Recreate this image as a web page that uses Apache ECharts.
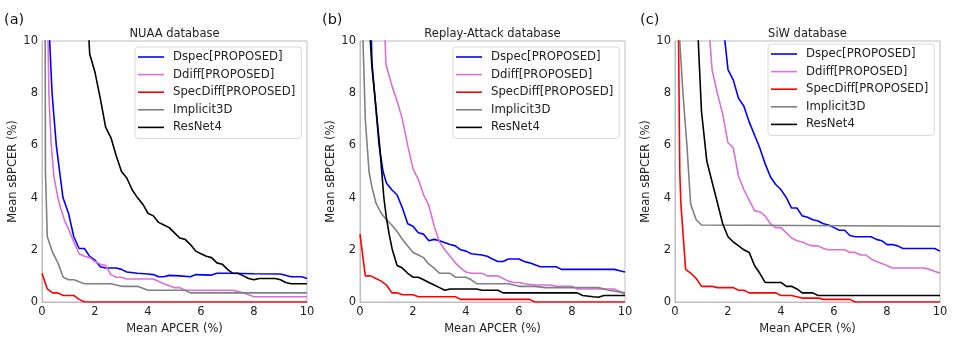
<!DOCTYPE html>
<html>
<head>
<meta charset="utf-8">
<script src="https://cdn.jsdelivr.net/npm/echarts@6/dist/echarts.min.js"></script>
<style>
    html, body { margin: 0; padding: 0; background: #fff; }
    #chart { width: 954px; height: 340px; }
</style>
</head>
<body>
<div id="chart"></div>
<script>
// 曲线名称与颜色
var seriesNames = ["Dspec[PROPOSED]", "Ddiff[PROPOSED]", "SpecDiff[PROPOSED]", "Implicit3D", "ResNet4"];
var seriesColors = ["#0000ff", "#da70d6", "#ff0000", "#808080", "#000000"];
var panelTitles = ["NUAA database", "Replay-Attack database", "SiW database"];
var panelLabels = ["(a)", "(b)", "(c)"];
var xTicks = [0, 2, 4, 6, 8, 10];
var yTicks = [0, 2, 4, 6, 8, 10];

// (a) NUAA
var nuaaDspec = [[0.28,10.5],[0.29,10],[0.38,8],[0.54,6],[0.64,5.2],[0.79,4.0],[1.0,3.4],[1.2,2.5],[1.4,2.05],[1.6,2.05],[1.8,1.75],[2.0,1.6],[2.2,1.35],[2.4,1.3],[2.8,1.3],[3.0,1.25],[3.2,1.15],[3.6,1.1],[4.0,1.07],[4.2,1.05],[4.4,0.97],[4.6,0.97],[4.8,1.02],[5.2,1.0],[5.6,0.97],[5.8,1.05],[6.4,1.03],[6.6,1.1],[7.0,1.1],[8.0,1.08],[9.0,1.07],[9.4,0.97],[9.8,0.97],[10,0.9]];
var nuaaDdiff = [[0.22,10.5],[0.26,8],[0.3,7],[0.35,6],[0.45,4.8],[0.6,4.0],[0.7,3.6],[0.86,3.1],[1.0,2.8],[1.2,2.3],[1.4,1.85],[1.6,1.75],[1.8,1.7],[2.0,1.55],[2.2,1.45],[2.4,1.4],[2.6,1.05],[2.8,0.95],[3.0,0.95],[3.2,0.88],[4.2,0.88],[4.6,0.7],[5.0,0.55],[5.2,0.55],[5.4,0.45],[7.2,0.45],[7.6,0.35],[8.0,0.2],[10,0.2]];
var nuaaSpecDiff = [[0,1.1],[0.1,0.8],[0.2,0.5],[0.4,0.35],[0.6,0.35],[0.8,0.25],[1.2,0.25],[1.4,0.1],[1.6,0],[10,0]];
var nuaaImplicit = [[0.12,10.5],[0.13,5],[0.2,2.5],[0.4,1.9],[0.6,1.5],[0.8,0.95],[1.0,0.85],[1.2,0.85],[1.6,0.7],[2.6,0.7],[3.0,0.6],[3.6,0.6],[4.0,0.45],[5.4,0.45],[5.6,0.35],[10,0.35]];
var nuaaResNet = [[1.75,10.5],[1.8,9.5],[2.0,8.8],[2.2,7.8],[2.4,6.7],[2.6,6.3],[2.8,5.6],[3.0,5.0],[3.2,4.75],[3.4,4.3],[3.6,4.0],[3.8,3.75],[4.0,3.4],[4.2,3.3],[4.4,3.05],[4.6,2.95],[4.8,2.85],[5.0,2.65],[5.2,2.45],[5.4,2.4],[5.6,2.2],[5.8,1.95],[6.0,1.85],[6.2,1.75],[6.4,1.7],[6.6,1.5],[6.8,1.45],[7.0,1.25],[7.2,1.1],[7.4,1.1],[7.6,1.0],[7.8,0.9],[8.0,0.85],[8.2,0.9],[8.8,0.9],[9.0,0.85],[9.2,0.75],[9.4,0.7],[10,0.7]];

// (b) Replay-Attack
var replayDspec = [[0.42,10.5],[0.45,9.2],[0.55,8],[0.72,6],[0.87,5],[1.0,4.55],[1.2,4.3],[1.4,4.1],[1.6,3.6],[1.8,3.0],[2.0,2.9],[2.2,2.65],[2.4,2.6],[2.6,2.35],[2.8,2.4],[3.0,2.35],[3.4,2.2],[3.6,2.15],[3.8,2.0],[4.0,1.95],[4.2,1.85],[4.6,1.8],[4.8,1.75],[5.0,1.65],[5.2,1.55],[5.4,1.55],[5.6,1.65],[6.0,1.65],[6.2,1.55],[6.4,1.5],[6.8,1.35],[7.4,1.35],[7.6,1.25],[9.6,1.25],[9.8,1.2],[10,1.15]];
var replayDdiff = [[0.93,10.5],[0.98,9.1],[1.2,8.3],[1.4,7.7],[1.6,7.0],[1.8,6.0],[2.0,5.1],[2.2,4.7],[2.4,4.1],[2.6,3.7],[2.8,2.9],[3.0,2.3],[3.2,2.0],[3.4,1.75],[3.6,1.5],[3.8,1.3],[4.0,1.15],[4.2,1.1],[4.6,1.1],[4.8,1.0],[5.2,1.0],[5.4,0.9],[5.6,0.8],[5.8,0.75],[6.0,0.75],[6.2,0.7],[6.6,0.65],[7.2,0.65],[7.4,0.6],[8.0,0.6],[8.2,0.5],[9.6,0.5],[10,0.3]];
var replaySpecDiff = [[0,2.6],[0.2,1.0],[0.4,1.0],[0.6,0.9],[0.8,0.8],[1.0,0.65],[1.2,0.35],[1.4,0.35],[1.6,0.28],[2.0,0.28],[2.2,0.2],[3.6,0.2],[3.8,0.1],[6.4,0.1],[6.6,0],[10,0]];
var replayImplicit = [[0.1,10.5],[0.2,7.0],[0.34,5.0],[0.45,4.4],[0.6,3.8],[0.8,3.4],[1.0,3.15],[1.2,2.95],[1.4,2.7],[1.6,2.4],[1.8,2.15],[2.0,1.9],[2.2,1.8],[2.4,1.7],[2.6,1.45],[2.8,1.3],[3.0,1.1],[3.4,1.1],[3.6,0.95],[4.0,0.95],[4.2,0.85],[4.4,0.7],[5.6,0.7],[5.8,0.65],[6.0,0.6],[6.6,0.6],[7.0,0.55],[9.0,0.55],[9.4,0.45],[10,0.35]];
var replayResNet = [[0.36,10.5],[0.45,9],[0.55,8],[0.74,6],[0.9,4],[1.0,3.2],[1.1,2.6],[1.22,2.0],[1.4,1.4],[1.6,1.3],[1.8,1.1],[2.0,0.95],[2.2,0.95],[2.4,0.85],[2.6,0.75],[2.8,0.65],[3.0,0.55],[3.2,0.45],[3.4,0.5],[4.4,0.5],[4.6,0.45],[5.2,0.45],[5.4,0.35],[8.2,0.35],[8.4,0.25],[8.8,0.2],[9.0,0.18],[9.2,0.25],[10,0.25]];

// (c) SiW
var siwDspec = [[1.83,10.5],[2.0,8.9],[2.2,8.5],[2.4,7.8],[2.6,7.5],[2.8,6.9],[3.0,6.4],[3.2,5.9],[3.4,5.3],[3.6,4.8],[3.8,4.5],[4.0,4.3],[4.2,4.0],[4.4,3.6],[4.6,3.6],[4.8,3.3],[5.0,3.25],[5.2,3.15],[5.4,3.1],[5.6,3.0],[5.8,2.95],[6.0,2.85],[6.2,2.75],[6.4,2.75],[6.6,2.55],[6.8,2.5],[7.4,2.5],[7.6,2.4],[7.8,2.35],[8.0,2.2],[8.2,2.2],[8.4,2.15],[8.6,2.05],[9.8,2.05],[10,1.95]];
var siwDdiff = [[1.28,10.5],[1.4,8.9],[1.6,8.0],[1.8,7.2],[2.0,6.1],[2.2,5.9],[2.4,4.8],[2.6,4.3],[2.8,3.9],[3.0,3.5],[3.2,3.45],[3.4,3.3],[3.6,3.0],[3.8,2.85],[4.0,2.85],[4.2,2.65],[4.4,2.45],[4.6,2.35],[4.8,2.3],[5.0,2.2],[5.2,2.15],[5.4,2.15],[5.6,2.05],[5.8,2.0],[6.4,2.0],[6.6,1.9],[6.8,1.9],[7.0,1.8],[7.2,1.8],[7.4,1.65],[7.6,1.55],[8.0,1.4],[8.2,1.3],[9.4,1.3],[9.6,1.25],[10,1.1]];
var siwSpecDiff = [[0.13,10.5],[0.18,5],[0.22,3.8],[0.4,1.25],[0.6,1.1],[0.8,0.9],[1.0,0.6],[1.4,0.6],[1.6,0.55],[2.2,0.55],[2.4,0.45],[2.6,0.45],[2.8,0.35],[3.8,0.35],[4.0,0.25],[4.4,0.25],[4.6,0.2],[4.8,0.15],[5.4,0.15],[5.6,0.1],[6.6,0.1],[6.8,0],[10,0]];
var siwImplicit = [[0.15,10.5],[0.3,8],[0.45,6],[0.59,3.75],[0.8,3.15],[1.0,2.95],[10,2.9]];
var siwResNet = [[0.86,10.5],[0.9,9.5],[1.0,7.3],[1.2,5.4],[1.4,4.6],[1.6,3.8],[1.8,3.0],[2.0,2.5],[2.2,2.3],[2.4,2.15],[2.6,2.0],[2.8,1.9],[3.0,1.4],[3.2,1.1],[3.4,0.75],[4.0,0.75],[4.2,0.6],[4.4,0.6],[4.6,0.5],[4.8,0.35],[5.2,0.35],[5.4,0.25],[10,0.25]];

var panelData = [
    [nuaaDspec, nuaaDdiff, nuaaSpecDiff, nuaaImplicit, nuaaResNet],
    [replayDspec, replayDdiff, replaySpecDiff, replayImplicit, replayResNet],
    [siwDspec, siwDdiff, siwSpecDiff, siwImplicit, siwResNet]
];

var FONT = "DejaVu Sans";
var gridLefts = [42, 360, 675];
var panelLeftEdges = [0, 318, 636];
var GRID_TOP = 41, GRID_W = 265, GRID_H = 261;

var grids = [], xAxes = [], yAxes = [], series = [], legends = [], graphics = [];

gridLefts.forEach(function(left, p) {
    grids.push({
        left: left, top: GRID_TOP, width: GRID_W, height: GRID_H,
        show: true, borderColor: "#bdbdbd", borderWidth: 1, backgroundColor: "transparent"
    });
    xAxes.push({
        type: "value", gridIndex: p, min: xTicks[0], max: xTicks[xTicks.length - 1], interval: 2,
        name: "Mean APCER (%)", nameLocation: "middle", nameGap: 14,
        nameTextStyle: { fontFamily: FONT, fontSize: 11.5, color: "#222" },
        axisLine: { lineStyle: { color: "#bdbdbd", width: 1 } },
        axisTick: { show: false },
        axisLabel: { fontFamily: FONT, fontSize: 11.5, color: "#222", margin: 4 },
        splitLine: { show: false }
    });
    yAxes.push({
        type: "value", gridIndex: p, min: yTicks[0], max: yTicks[yTicks.length - 1], interval: 2,
        name: "Mean sBPCER (%)", nameLocation: "middle", nameGap: 17,
        nameTextStyle: { fontFamily: FONT, fontSize: 11.5, color: "#222" },
        axisLine: { show: true, lineStyle: { color: "#bdbdbd", width: 1 } },
        axisTick: { show: false },
        axisLabel: { fontFamily: FONT, fontSize: 11.5, color: "#222", margin: 4 },
        splitLine: { show: false }
    });
    panelData[p].forEach(function(d, i) {
        series.push({
            name: seriesNames[i], type: "line", xAxisIndex: p, yAxisIndex: p,
            data: d, showSymbol: false, clip: true, animation: false,
            lineStyle: { color: seriesColors[i], width: 1.6 },
            itemStyle: { color: seriesColors[i] }
        });
    });
    legends.push({
        orient: "vertical",
        left: p === 2 ? 768 : left + 93,
        top: p === 2 ? 44 : 47,
        data: seriesNames,
        icon: "rect", itemWidth: 26, itemHeight: 1.6, itemGap: 3.6,
        padding: [3, 6, 4, 3],
        backgroundColor: "rgba(255,255,255,0.85)",
        borderColor: "#d8d8d8", borderWidth: 1, borderRadius: 3,
        selectedMode: false,
        textStyle: { fontFamily: FONT, fontSize: 11.7, color: "#222", lineHeight: 14, padding: [0, 0, 0, 4] }
    });
    graphics.push({
        type: "text", x: left + GRID_W / 2, y: 34,
        style: { text: panelTitles[p], font: "11.5px '" + FONT + "'", fill: "#222", textAlign: "center", textVerticalAlign: "middle" }
    });
    graphics.push({
        type: "text", x: panelLeftEdges[p] + 4, y: 20,
        style: { text: panelLabels[p], font: "14.5px '" + FONT + "'", fill: "#111", textAlign: "left", textVerticalAlign: "middle" }
    });
});

var myChart = echarts.init(document.getElementById("chart"), null, { renderer: "canvas" });
myChart.setOption({
    animation: false,
    backgroundColor: "#fff",
    grid: grids,
    xAxis: xAxes,
    yAxis: yAxes,
    legend: legends,
    series: series,
    graphic: graphics
});
</script>
</body>
</html>
